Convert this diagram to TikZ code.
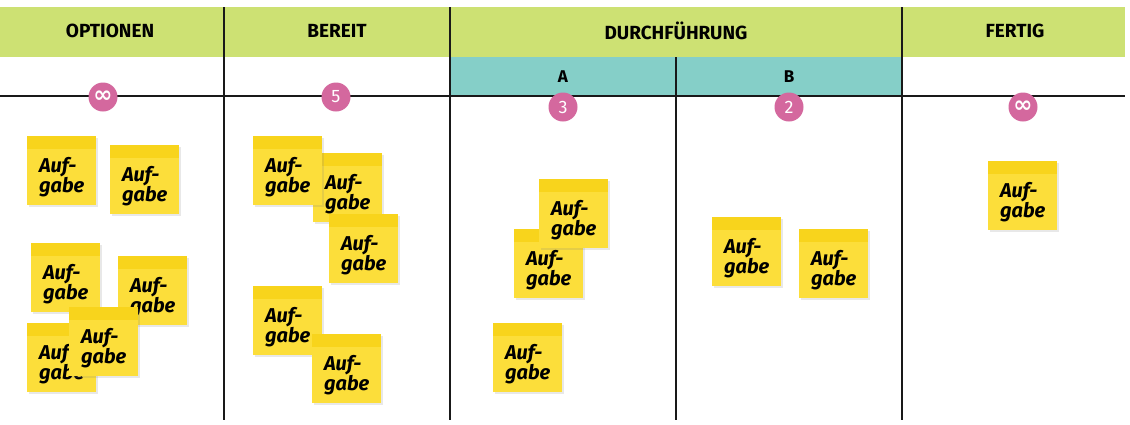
\documentclass[tikz,border=0pt]{standalone}
\usepackage{fontspec}
\setmainfont{Fira Sans}
\newfontfamily\symfont{DejaVu Sans}
\usetikzlibrary{shadows}
\definecolor{hdrgreen}{RGB}{205,225,115}
\definecolor{subteal}{RGB}{133,207,200}
\definecolor{badgepink}{RGB}{212,104,158}
\definecolor{notebody}{RGB}{252,222,58}
\definecolor{noteband}{RGB}{248,212,28}
\definecolor{gridline}{RGB}{25,25,25}
\tikzset{
  grid/.style={draw=gridline, line width=1.8pt},
  hdr/.style={font=\fontsize{19}{21}\selectfont\bfseries, text=black},
  subhdr/.style={font=\fontsize{17}{19}\selectfont\bfseries, text=black},
  badge/.style={circle, fill=badgepink, minimum size=29pt, inner sep=0pt, text=white, font=\fontsize{18}{20}\selectfont},
  note/.style={rectangle, fill=notebody, minimum width=69pt, minimum height=69pt, inner sep=0pt,
    drop shadow={opacity=0.18, shadow xshift=1.5pt, shadow yshift=-2pt},
    path picture={\fill[noteband] (path picture bounding box.north west) rectangle ([yshift=-13pt]path picture bounding box.north east);}},
  notetext/.style={align=left, font=\fontsize{20}{20}\selectfont\bfseries\itshape, text=black, inner sep=0pt}
}
\newcommand{\sticky}[3]{%
  \node[note, anchor=north west] (#1) at (#2,#3) {};
  \node[notetext] (#1t) at ([yshift=-6pt]#1.center) {Auf-\\gabe};
}
\newcommand{\infsym}{{\symfont\bfseries\fontsize{23}{23}\selectfont ∞}}
\begin{document}
\begin{tikzpicture}[x=1pt,y=-1pt]
\useasboundingbox (0,0) rectangle (1130,424);
\fill[white] (0,0) rectangle (1130,424);
% header bands
\fill[hdrgreen] (0,7) rectangle (1125,57);
\fill[subteal] (450,57) rectangle (902,95);
% grid lines
\draw[grid] (0,96) -- (1125,96);
\draw[grid] (224,7) -- (224,420);
\draw[grid] (450,7) -- (450,420);
\draw[grid] (676,57) -- (676,420);
\draw[grid] (902,7) -- (902,420);
% header texts
\node[hdr] (hOpt) at (110,31) {OPTIONEN};
\node[hdr] (hBer) at (337,31) {BEREIT};
\node[hdr] (hDur) at (676,31) {DURCHFÜHRUNG};
\node[hdr] (hFer) at (1015,31) {FERTIG};
\node[subhdr] (hA) at (563,77) {A};
\node[subhdr] (hB) at (789,77) {B};
% badges
\node[badge] (bOpt) at (103,97) {\infsym};
\node[badge] (bBer) at (336,97) {5};
\node[badge] (bA) at (563,107) {3};
\node[badge] (bB) at (789,107) {2};
\node[badge] (bFer) at (1023,107) {\infsym};
% OPTIONEN notes
\sticky{o1}{27}{136}
\sticky{o2}{110}{145}
\sticky{o3}{31}{243}
\sticky{o4}{118}{256}
\sticky{o5}{27}{323}
\sticky{o6}{69}{307}
% BEREIT notes
\sticky{r2}{313}{153}
\sticky{r1}{253}{136}
\sticky{r3}{329}{214}
\sticky{r4}{253}{286}
\sticky{r5}{312}{334}
% A notes
\sticky{a1}{514}{229}
\sticky{a2}{539}{179}
\sticky{a3}{493}{323}
% B notes
\sticky{b1}{712}{217}
\sticky{b2}{799}{229}
% FERTIG note
\sticky{f1}{988}{161}
\end{tikzpicture}
\end{document}
